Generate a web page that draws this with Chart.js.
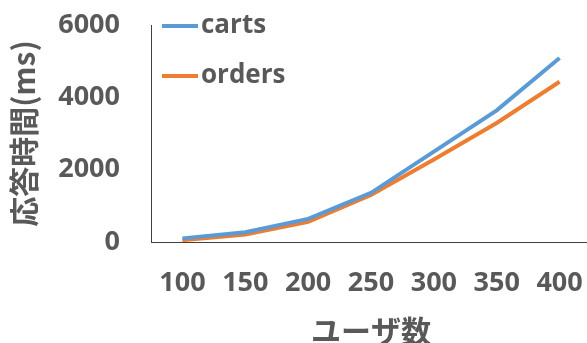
<!DOCTYPE html>
<html>
<head>
<meta charset="utf-8">
<script src="https://cdn.jsdelivr.net/npm/chart.js@4"></script>
<style>
  html, body { margin: 0; padding: 0; overflow: hidden; background: #fff; }
</style>
</head>
<body>
<canvas id="myChart" width="591" height="343"></canvas>
<script>
var users = ["100", "150", "200", "250", "300", "350", "400"];
var carts = [100, 270, 640, 1360, 2500, 3640, 5090];
var orders = [50, 210, 560, 1300, 2280, 3290, 4430];
var yTicks = [0, 2000, 4000, 6000];

var grey = "#595959";
var tickFont = { family: "'Open Sans'", size: 27, weight: "bold" };
var titleFont = { family: "'Noto Sans CJK JP'", size: 30, weight: "bold" };

// legend drawn inside the plot, top-left, one entry per row
var innerLegend = {
  id: "innerLegend",
  afterDraw: function (chart) {
    var ctx = chart.ctx;
    var area = chart.chartArea;
    var x = area.left + 11;
    var y = area.top + 1;
    ctx.save();
    ctx.font = "bold 26px 'Open Sans'";
    ctx.textBaseline = "middle";
    chart.data.datasets.forEach(function (ds, i) {
      var yy = y + i * 50;
      ctx.strokeStyle = ds.borderColor;
      ctx.lineWidth = 4;
      ctx.beginPath();
      ctx.moveTo(x, yy);
      ctx.lineTo(x + 36, yy);
      ctx.stroke();
      ctx.fillStyle = grey;
      ctx.fillText(ds.label, x + 39, yy);
    });
    ctx.restore();
  }
};

// fixed axis boxes, no automatic label padding
function noPad(axis) {
  axis.paddingTop = 0;
  axis.paddingBottom = 0;
  axis.paddingLeft = 0;
  axis.paddingRight = 0;
}

var ctx = document.getElementById("myChart").getContext("2d");
var myChart = new Chart(ctx, {
  type: "line",
  data: {
    labels: users,
    datasets: [{
      label: "carts",
      data: carts,
      borderColor: "#5B9BD5",
      borderWidth: 4,
      pointRadius: 0,
      fill: false
    }, {
      label: "orders",
      data: orders,
      borderColor: "#ED7D31",
      borderWidth: 4,
      pointRadius: 0,
      fill: false
    }]
  },
  options: {
    responsive: false,
    animation: false,
    layout: { autoPadding: false, padding: { top: 25, left: 0, right: 0, bottom: 0 } },
    plugins: {
      legend: { display: false },
      tooltip: { enabled: false }
    },
    scales: {
      x: {
        offset: true,
        grid: { display: false, drawTicks: false, offset: true },
        border: { display: true, color: "#404040", width: 1 },
        ticks: { color: grey, font: tickFont, padding: 25, maxRotation: 0 },
        title: {
          display: true,
          text: "ユーザ数",
          color: grey,
          font: { family: titleFont.family, size: 30, weight: "bold", lineHeight: 0.8 },
          padding: { top: 0, bottom: 0 }
        },
        afterFit: function (axis) {
          noPad(axis);
          axis.height = 101;
        }
      },
      y: {
        min: 0,
        max: 6000,
        afterBuildTicks: function (axis) {
          axis.ticks = yTicks.map(function (v) { return { value: v }; });
        },
        grid: { display: false, drawTicks: false },
        border: { display: true, color: "#404040", width: 1 },
        ticks: {
          color: grey,
          font: tickFont,
          padding: 31,
          callback: function (v) { return String(v); }
        },
        title: {
          display: true,
          text: "応答時間(ms)",
          color: grey,
          font: titleFont,
          padding: { top: 6, bottom: 0 }
        },
        afterFit: function (axis) {
          noPad(axis);
          axis.width = 151;
        }
      }
    }
  },
  plugins: [innerLegend]
});
</script>
</body>
</html>
